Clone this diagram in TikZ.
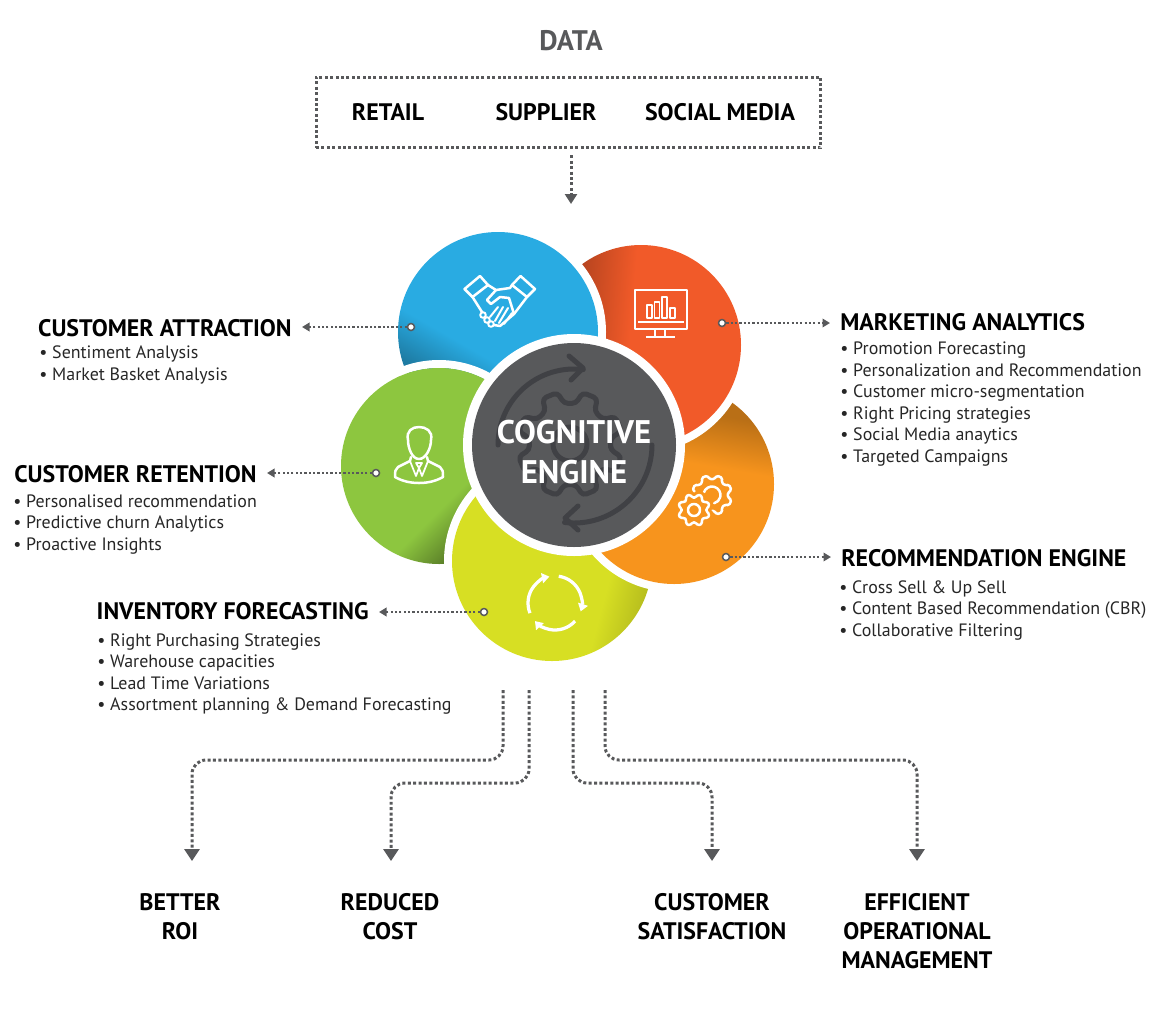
\documentclass[tikz,border=0pt]{standalone}
\usepackage{fontspec}
\setmainfont{PT Sans}
\usetikzlibrary{arrows.meta}

\definecolor{inkgray}{HTML}{58595B}
\definecolor{gearink}{HTML}{404145}
\definecolor{petalblue}{HTML}{29ABE2}
\definecolor{petalred}{HTML}{F15A29}
\definecolor{petalorange}{HTML}{F7941D}
\definecolor{petalgreen}{HTML}{8DC63F}
\definecolor{petalyellow}{HTML}{D7DF23}

\pgfdeclareverticalshading{blueshade}{100bp}{color(0bp)=(petalblue!70!black); color(32bp)=(petalblue!72!black); color(43bp)=(petalblue); color(100bp)=(petalblue)}
\pgfdeclareverticalshading{redshade}{100bp}{color(0bp)=(petalred!75!black); color(33bp)=(petalred!75!black); color(47bp)=(petalred); color(100bp)=(petalred)}
\pgfdeclareverticalshading{orangeshade}{100bp}{color(0bp)=(petalorange!72!black); color(31bp)=(petalorange!75!black); color(44bp)=(petalorange); color(100bp)=(petalorange)}
\pgfdeclareverticalshading{greenshade}{100bp}{color(0bp)=(petalgreen!60!black); color(30bp)=(petalgreen!60!black); color(42bp)=(petalgreen); color(100bp)=(petalgreen)}
\pgfdeclareverticalshading{yellowshade}{100bp}{color(0bp)=(petalyellow!78!black); color(20bp)=(petalyellow!78!black); color(35bp)=(petalyellow); color(100bp)=(petalyellow)}

\tikzset{
    heading/.style={font=\fontsize{13.6}{16.45}\selectfont\bfseries,text=black,inner xsep=0.2cm,inner ysep=0pt},
    itemlist/.style={font=\fontsize{10.2}{12.25}\selectfont,text=black!85,align=left,anchor=north west,inner sep=0pt},
    outcome/.style={heading,align=center,anchor=north},
    dotlink/.style={inkgray,line width=0.045cm,dash pattern=on 0.045cm off 0.042cm,-{Triangle[width=0.17cm,length=0.15cm]}},
    droplink/.style={inkgray,line width=0.06cm,dash pattern=on 0.06cm off 0.048cm,rounded corners=0.28cm,-{Triangle[width=0.3cm,length=0.24cm]}},
    pin/.style={circle,draw=inkgray,fill=white,line width=0.03cm,minimum size=0.14cm,inner sep=0pt},
    iconline/.style={white,line width=0.05cm,line join=round,line cap=round}
}

% outline of a cog, drawn round the origin of the current scope
\newcommand{\cogoutline}[4]{%
    \pgfmathsetmacro\cogstep{360/#3}
    \draw[#4] ({-0.32*\cogstep+0.5*\cogstep}:#1)
        \foreach \i in {1,...,#3}{
            -- ({(\i-0.5)*\cogstep-0.32*\cogstep}:#1)
            -- ({(\i-0.5)*\cogstep-0.19*\cogstep}:#2)
            -- ({(\i-0.5)*\cogstep+0.19*\cogstep}:#2)
            -- ({(\i-0.5)*\cogstep+0.32*\cogstep}:#1)
        } -- cycle;
}

\begin{document}
\begin{tikzpicture}[x=0.02cm,y=-0.02cm]
    \useasboundingbox (0,0) rectangle (1152,1018);

    % data sources
    \node[font=\fontsize{16.1}{18}\selectfont\bfseries,text=inkgray,inner sep=0pt] (dataTitle) at (571,41) {DATA};
    \node[draw=inkgray,line width=0.06cm,dash pattern=on 0.06cm off 0.048cm,minimum width=10.1cm,minimum height=1.42cm,inner sep=0pt] (dataBox) at (568.5,112.5) {};
    \node[heading,inner xsep=0pt] (retail) at (388,112) {RETAIL};
    \node[heading,inner xsep=0pt] (supplier) at (546,112) {SUPPLIER};
    \node[heading,inner xsep=0pt] (social) at (720,112) {SOCIAL MEDIA};
    \coordinate (dataTip) at (571,204);
    \draw[droplink,-{Triangle[width=0.24cm,length=0.2cm]},shorten <=0.12cm] (dataBox.south -| dataTip) -- (dataTip);

    % petals, each one laid over the one before
    \fill[white] (439,466) circle (106);
    \shade[shading=greenshade,shading angle=45] (439,466) circle (98);
    \fill[white] (552,561) circle (108);
    \shade[shading=yellowshade,shading angle=75] (552,561) circle (100);
    \fill[white] (674,484) circle (108);
    \shade[shading=orangeshade,shading angle=170] (674,484) circle (100);
    \fill[white] (641,345) circle (108);
    \shade[shading=redshade,shading angle=-95] (641,345) circle (100);
    \fill[white] (498,332) circle (108);
    \shade[shading=blueshade,shading angle=-30] (498,332) circle (100);
    % top of the green petal again, it lies over the blue one
    \begin{scope}
        \clip (498,332) circle (101);
        \draw[white,line width=0.16cm] (439,466) circle (102);
    \end{scope}
    \begin{scope}
        \clip (498,332) circle (111);
        \fill[petalgreen] (439,466) circle (98);
    \end{scope}

    % handshake
    \draw[iconline] (464.5,289) -- (480,276) -- (488,285) -- (472.5,297) -- cycle;
    \draw[iconline] (512,285) -- (520.5,276) -- (535,289) -- (527,297) -- cycle;
    \draw[iconline] (488,285) -- (496,290) -- (510,288) -- (512,285);
    \draw[iconline] (472.5,297) -- (482,312);
    \draw[iconline] (527,297) -- (514,314) -- (500,326) -- (494,325);
    \draw[iconline] (496,290) -- (487,300) -- (491,304) -- (500,297) -- (509,298) -- (514,314);
    \draw[iconline,line width=0.04cm] (498,307) -- (490,317) (503,307) -- (495,321) (508,308) -- (499,323) (512,313) -- (504,324);
    \draw[iconline,line width=0.04cm] (483,315) circle (2.8) (487,320) circle (2.8) (491,324) circle (2.8);

    % monitor with bars
    \draw[iconline,line cap=butt,line width=0.04cm] (635,290) rectangle (687,329);
    \draw[iconline,line cap=butt,line width=0.04cm] (638,322) -- (684,322);
    \foreach \bx/\by in {647/305,654.5/302,662/297,670/308}
        \draw[iconline,line cap=butt,line width=0.035cm] (\bx,\by) rectangle (\bx+5,318);
    \draw[iconline,line cap=butt,line width=0.04cm] (655,329) -- (655,337) (665,329) -- (665,337) (646,337) -- (675,337);

    % man in a suit
    \draw[iconline] (408,440) .. controls (406,431) and (412,427) .. (419,427) .. controls (426,427) and (433,431) .. (431,440)
        .. controls (431,448) and (426,459) .. (419,459) .. controls (412,459) and (408,448) .. (408,440) -- cycle;
    \draw[iconline] (411,457) -- (410,461) -- (398,467) .. controls (395,469) and (395,472) .. (395,477) .. controls (402,481) and (410,483) .. (419,483)
        .. controls (428,483) and (436,481) .. (443,477) .. controls (443,472) and (443,469) .. (440,467) -- (428,461) -- (427,457);
    \draw[iconline,line width=0.035cm] (410,461) -- (416,476) -- (419,468) -- (422,476) -- (428,461);
    \draw[iconline,line width=0.035cm] (416,463) -- (422,463) -- (419,468) -- cycle;

    % pair of cogs
    \begin{scope}[shift={(712,495)}]
        \cogoutline{16}{20}{8}{iconline,rounded corners=0.03cm}
        \draw[iconline] (195:8.5) arc[start angle=195,end angle=435,radius=8.5];
    \end{scope}
    \begin{scope}[shift={(694,510)}]
        \cogoutline{12.5}{16}{8}{petalorange,fill=petalorange,line width=0.16cm,line join=round}
        \cogoutline{12.5}{16}{8}{iconline,rounded corners=0.03cm}
        \draw[iconline] (0,0) circle (6);
    \end{scope}

    % turning arrows
    \begin{scope}[shift={(555,603)},iconline,line width=0.065cm,line cap=butt]
        \draw[-{Triangle[width=0.2cm,length=0.15cm]}] (158:27) arc[start angle=158,end angle=258,radius=27];
        \draw[-{Triangle[width=0.2cm,length=0.15cm]}] (278:27) arc[start angle=278,end angle=378,radius=27];
        \draw[-{Triangle[width=0.2cm,length=0.15cm]}] (42:27) arc[start angle=42,end angle=138,radius=27];
    \end{scope}

    % cognitive engine
    \fill[white] (574,445) circle (111);
    \fill[inkgray] (574,445) circle (102);
    \begin{scope}[shift={(574,445)},gearink,line width=0.1cm,line cap=round,line join=round]
        \draw (180:76) arc[start angle=180,end angle=277,radius=76];
        \draw (-5,-89) -- (9,-77) -- (-3,-65);
        \draw (0:78) arc[start angle=0,end angle=97,radius=78];
        \draw (4,61) -- (-9,73) -- (4,85);
    \end{scope}
    \begin{scope}[shift={(570,444)}]
        \cogoutline{41}{53}{8}{gearink,line width=0.1cm,line join=round,rounded corners=0.08cm}
        \draw[gearink,line width=0.1cm] (0,0) circle (17);
    \end{scope}
    \node[font=\fontsize{18.6}{22.5}\selectfont\bfseries,text=white,align=center,inner sep=0pt] (engine) at (574,452) {COGNITIVE\\ENGINE};

    % petal pins and their labels
    \node[pin] (bluePin) at (411,327) {};
    \node[pin] (redPin) at (722,323) {};
    \node[pin] (greenPin) at (376,473) {};
    \node[pin] (orangePin) at (726,557) {};
    \node[pin] (yellowPin) at (484,612) {};

    \node[heading,anchor=east] (attractTitle) at (302,328) {CUSTOMER ATTRACTION};
    \node[itemlist] (attractList) at (39,345.5) {• Sentiment Analysis\\• Market Basket Analysis};
    \node[heading,anchor=west] (marketTitle) at (830,322) {MARKETING ANALYTICS};
    \node[itemlist] (marketList) at (840,341.5) {• Promotion Forecasting\\• Personalization and Recommendation\\• Customer micro-segmentation\\• Right Pricing strategies\\• Social Media anaytics\\• Targeted Campaigns};
    \node[heading,anchor=east] (retainTitle) at (267,474) {CUSTOMER RETENTION};
    \node[itemlist] (retainList) at (13,494) {• Personalised recommendation\\• Predictive churn Analytics\\• Proactive Insights};
    \node[heading,anchor=west] (recommendTitle) at (831,558) {RECOMMENDATION ENGINE};
    \node[itemlist] (recommendList) at (839,580) {• Cross Sell \& Up Sell\\• Content Based Recommendation (CBR)\\• Collaborative Filtering};
    \node[heading,anchor=east] (inventoryTitle) at (379,611) {INVENTORY FORECASTING};
    \node[itemlist] (inventoryList) at (97,633) {• Right Purchasing Strategies\\• Warehouse capacities\\• Lead Time Variations\\• Assortment planning \& Demand Forecasting};

    \draw[dotlink] (bluePin) -- (bluePin -| attractTitle.east);
    \draw[dotlink] (redPin) -- (redPin -| marketTitle.west);
    \draw[dotlink] (greenPin) -- (greenPin -| retainTitle.east);
    \draw[dotlink] (orangePin) -- (orangePin -| recommendTitle.west);
    \draw[dotlink] (yellowPin) -- (yellowPin -| inventoryTitle.east);

    % outcomes
    \node[outcome] (roiText) at (180,893) {BETTER\\ROI};
    \node[outcome] (costText) at (390,893) {REDUCED\\COST};
    \node[outcome] (satisfyText) at (712,893) {CUSTOMER\\SATISFACTION};
    \node[outcome] (efficientText) at (917,893) {EFFICIENT\\OPERATIONAL\\MANAGEMENT};

    \coordinate (roiOut) at (503,690);
    \coordinate (costOut) at (529,690);
    \coordinate (satisfyOut) at (573,690);
    \coordinate (efficientOut) at (605,690);
    \coordinate (roiBend) at (192,760);
    \coordinate (costBend) at (391,783);
    \coordinate (satisfyBend) at (712,783);
    \coordinate (efficientBend) at (917,760);
    \coordinate (roiTip) at (192,861);
    \coordinate (costTip) at (391,861);
    \coordinate (satisfyTip) at (712,861);
    \coordinate (efficientTip) at (917,861);

    \draw[droplink] (roiOut) |- (roiBend) -- (roiTip);
    \draw[droplink] (costOut) |- (costBend) -- (costTip);
    \draw[droplink] (satisfyOut) |- (satisfyBend) -- (satisfyTip);
    \draw[droplink] (efficientOut) |- (efficientBend) -- (efficientTip);
\end{tikzpicture}
\end{document}
